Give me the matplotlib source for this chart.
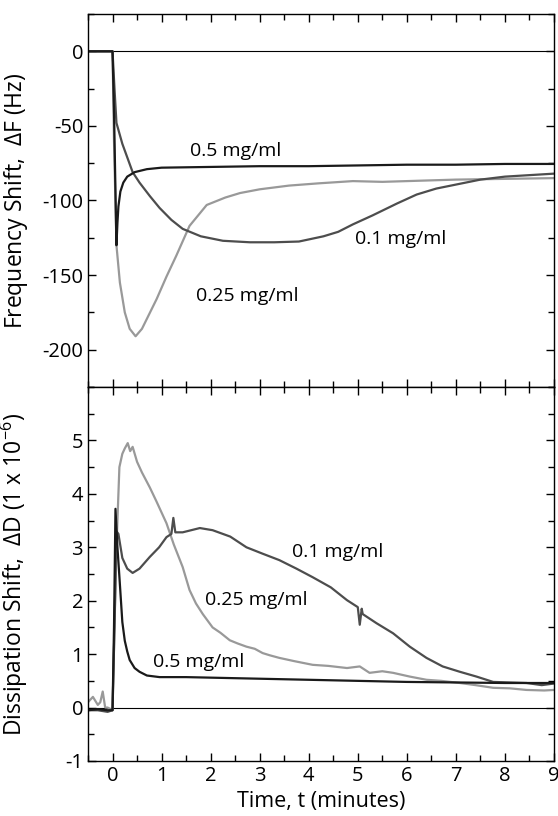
import matplotlib
matplotlib.use("Agg")
import matplotlib.pyplot as plt
from matplotlib.ticker import MultipleLocator

plt.rcParams['font.family'] = ['Open Sans', 'DejaVu Sans']
plt.rcParams['mathtext.fontset'] = 'custom'
plt.rcParams['mathtext.rm'] = 'Open Sans'
plt.rcParams['mathtext.it'] = 'Open Sans'
plt.rcParams['axes.unicode_minus'] = False

# frequency shift (Hz) vs time (min)
t_f_05 = [-0.5, 0.0, 0.03, 0.08, 0.10, 0.12, 0.16, 0.22, 0.30, 0.45, 0.7, 1.0, 2, 3, 4, 5, 6, 7, 8, 9]
f_05 = [0, 0, -40, -130, -115, -104, -94, -88, -84, -81, -79, -78, -77.5, -77, -77, -76.5, -76, -76, -75.5, -75.5]

t_f_01 = [-0.5, 0.0, 0.04, 0.08, 0.2, 0.41, 0.55, 0.76, 0.96, 1.2, 1.43, 1.8, 2.25, 2.8, 3.3, 3.8,
          4.3, 4.6, 4.9, 5.3, 5.8, 6.2, 6.6, 6.9, 7.5, 8.0, 8.5, 9.0]
f_01 = [0, 0, -25, -48, -62, -81, -88, -97, -105, -113, -119, -124, -127, -128, -128, -127.5,
        -124, -121, -116, -110, -102, -96, -92, -90, -86, -84, -83, -82]

t_f_025 = [-0.5, 0.0, 0.03, 0.08, 0.15, 0.25, 0.35, 0.47, 0.6, 0.75, 0.9, 1.1, 1.3, 1.57, 1.92,
           2.3, 2.6, 3.0, 3.6, 4.2, 4.9, 5.5, 6.0, 7.0, 8.0, 9.0]
f_025 = [0, 0, -60, -130, -155, -175, -186, -191, -186, -176, -166, -151, -137, -117, -103,
         -98, -95, -92.5, -90, -88.5, -87, -87.5, -87, -86, -85.5, -85]

# dissipation shift (1e-6) vs time (min)
t_d_05 = [-0.5, -0.3, -0.1, 0.0, 0.03, 0.06, 0.1, 0.14, 0.2, 0.25, 0.3, 0.35, 0.45, 0.55, 0.7,
          0.96, 1.5, 2, 3, 4, 5, 6, 7, 8, 9]
d_05 = [-0.05, -0.03, -0.05, -0.05, 1.5, 3.72, 3.0, 2.45, 1.6, 1.25, 1.05, 0.89, 0.74, 0.67, 0.6,
        0.57, 0.57, 0.56, 0.54, 0.52, 0.5, 0.48, 0.47, 0.46, 0.46]

t_d_01 = [-0.5, -0.3, -0.1, 0.0, 0.04, 0.08, 0.12, 0.2, 0.3, 0.41, 0.55, 0.76, 0.95, 1.1, 1.2,
          1.24, 1.28, 1.43, 1.78, 2.04, 2.4, 2.73, 3.06, 3.4, 3.75, 4.08, 4.45, 4.78, 5.0, 5.04,
          5.08, 5.1, 5.38, 5.72, 6.06, 6.4, 6.73, 7.08, 7.42, 7.76, 8.1, 8.44, 8.75, 9.0]
d_01 = [-0.05, -0.05, -0.08, -0.05, 1.5, 3.3, 3.25, 2.8, 2.6, 2.52, 2.6, 2.82, 3.0, 3.19, 3.25,
        3.55, 3.28, 3.28, 3.36, 3.32, 3.2, 3.0, 2.88, 2.76, 2.6, 2.44, 2.25, 2.01, 1.88, 1.55,
        1.85, 1.75, 1.58, 1.39, 1.14, 0.93, 0.77, 0.67, 0.58, 0.48, 0.47, 0.46, 0.42, 0.45]

t_d_025 = [-0.5, -0.4, -0.3, -0.25, -0.2, -0.15, -0.1, 0.0, 0.04, 0.08, 0.14, 0.2, 0.25, 0.31,
           0.36, 0.41, 0.5, 0.6, 0.76, 0.9, 1.1, 1.25, 1.43, 1.57, 1.7, 1.84, 2.04, 2.2, 2.39,
           2.55, 2.73, 2.9, 3.06, 3.2, 3.4, 3.7, 4.08, 4.4, 4.78, 5.04, 5.24, 5.5, 5.72, 6.06,
           6.4, 6.7, 7.08, 7.4, 7.76, 8.1, 8.44, 8.8, 9.0]
d_025 = [0.1, 0.2, 0.05, 0.1, 0.3, 0.0, 0.0, -0.05, 1.5, 3.0, 4.5, 4.75, 4.85, 4.95,
         4.8, 4.88, 4.6, 4.4, 4.12, 3.85, 3.45, 3.05, 2.63, 2.2, 1.95, 1.75, 1.5, 1.4, 1.26,
         1.2, 1.14, 1.1, 1.02, 0.98, 0.93, 0.87, 0.8, 0.78, 0.74, 0.77, 0.65, 0.68, 0.65, 0.58,
         0.52, 0.5, 0.46, 0.42, 0.37, 0.36, 0.33, 0.32, 0.33]

c05 = '#1a1a1a'
c01 = '#4d4d4d'
c025 = '#999999'

fig = plt.figure(figsize=(5.58, 8.16), dpi=100)
W = 558.0
H = 816.0
ax1 = fig.add_axes([88/W, 1-387/H, 466/W, 373/H])
ax2 = fig.add_axes([88/W, 1-761/H, 466/W, 374/H])

for ax in (ax1, ax2):
    ax.axhline(0, color='black', lw=0.8, zorder=1)
    ax.set_xlim(-0.5, 9)
    ax.xaxis.set_major_locator(MultipleLocator(1))
    ax.xaxis.set_minor_locator(MultipleLocator(0.5))
    ax.tick_params(which='both', direction='in', top=True, right=True, labelsize=14.5, width=1.0)
    ax.tick_params(which='major', length=6)
    ax.tick_params(which='minor', length=4)
    for s in ax.spines.values():
        s.set_linewidth(1.0)

ax1.plot(t_f_025, f_025, color=c025, lw=1.6)
ax1.plot(t_f_01, f_01, color=c01, lw=1.6)
ax1.plot(t_f_05, f_05, color=c05, lw=1.6)
ax1.set_ylim(-225, 25)
ax1.yaxis.set_major_locator(MultipleLocator(50))
ax1.yaxis.set_minor_locator(MultipleLocator(25))
ax1.tick_params(labelbottom=False)
ax1.set_ylabel(r'Frequency Shift,  $\Delta$F (Hz)', fontsize=16.5)
ax1.yaxis.set_label_coords(-0.125, 0.5)
ax1.text(1.57, -67, '0.5 mg/ml', fontsize=14, va='center')
ax1.text(4.94, -126, '0.1 mg/ml', fontsize=14, va='center')
ax1.text(1.71, -164, '0.25 mg/ml', fontsize=14, va='center')

ax2.plot(t_d_025, d_025, color=c025, lw=1.6)
ax2.plot(t_d_01, d_01, color=c01, lw=1.6)
ax2.plot(t_d_05, d_05, color=c05, lw=1.6)
ax2.set_ylim(-1, 6)
ax2.yaxis.set_major_locator(MultipleLocator(1))
ax2.yaxis.set_minor_locator(MultipleLocator(0.5))
ax2.set_yticks([-1, 0, 1, 2, 3, 4, 5])
ax2.set_ylabel(r'Dissipation Shift,  $\Delta$D (1 x 10$^{-6}$)', fontsize=16.5)
ax2.yaxis.set_label_coords(-0.125, 0.5)
ax2.set_xlabel('Time, t (minutes)', fontsize=15.5)
ax2.text(3.65, 2.91, '0.1 mg/ml', fontsize=14, va='center')
ax2.text(1.88, 2.01, '0.25 mg/ml', fontsize=14, va='center')
ax2.text(0.82, 0.85, '0.5 mg/ml', fontsize=14, va='center')

fig.savefig('out.png', dpi=100)
